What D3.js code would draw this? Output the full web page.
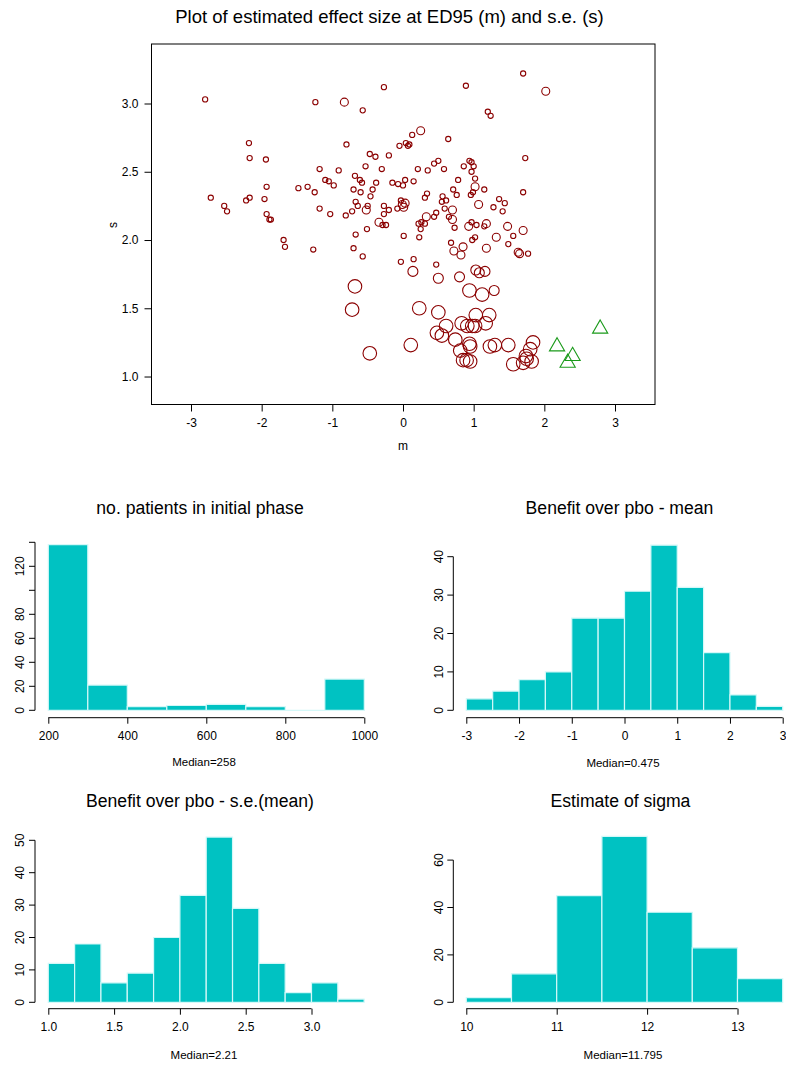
<!DOCTYPE html>
<html><head><meta charset="utf-8">
<script src="https://cdn.jsdelivr.net/npm/d3@7"></script>
<style>
body{margin:0;background:#fff}
svg{display:block;font-family:"Liberation Sans",Arial,Helvetica,sans-serif}
</style></head><body>
<svg id="chart" width="786" height="1067"></svg>
<script>
// Estimated effect at ED95 (m) and its standard error (s), one point per trial
const effectM = [-2.80,-1.24,-0.83,-0.57,-0.27,0.89,1.70,2.02,1.20,1.24,
 -2.18,-2.17,-1.94,-0.80,-0.47,-0.39,-0.20,-0.05,0.04,0.09,
 0.07,0.13,0.25,0.64,1.73,-1.18,-0.91,-0.53,-0.30,-0.68,
 -0.61,-0.58,-1.10,-1.05,-0.98,-0.38,-0.15,-0.07,0.00,0.03,
 0.15,-1.48,-1.35,-1.25,-1.93,-2.72,-2.53,-2.49,-2.22,-2.17,
 -1.96,-1.93,-1.89,-1.87,-1.18,-1.03,-0.81,-0.72,-0.67,-0.64,
 -0.52,-0.50,-0.70,-0.60,-0.46,-0.43,-0.27,-0.20,-0.27,-0.08,
 -0.03,-0.01,0.01,0.03,-0.34,-0.29,-0.24,-0.51,-0.67,-1.69,
 -1.67,-1.27,-0.70,-0.57,0.01,-0.03,0.15,0.14,-0.68,-0.72,
 -0.47,0.23,0.11,0.22,0.31,0.25,0.23,0.21,0.35,0.44,
 0.50,0.58,0.86,0.94,0.97,1.00,0.97,1.02,0.78,0.71,
 0.76,1.02,0.99,0.96,1.15,1.70,0.34,0.31,0.56,0.61,
 0.55,1.07,1.36,1.44,1.28,1.41,0.59,0.70,0.47,0.44,
 0.33,0.26,0.65,0.70,0.73,0.97,1.04,1.18,1.15,0.93,
 1.48,1.70,1.32,1.56,0.98,1.02,0.68,0.85,0.72,0.82,
 1.18,1.49,1.63,1.65,1.77,0.47,0.50,0.80,1.03,1.08,
 1.16,0.94,1.12,1.29,0.50,0.61,0.48,0.55,0.83,1.03,
 1.22,1.17,0.91,0.98,1.02,0.74,0.94,0.95,0.81,0.85,
 0.95,0.90,1.23,1.30,1.49,1.84,1.80,1.74,1.56,1.70,
 1.82,1.75];
const effectS = [3.03,3.01,3.01,2.95,3.12,3.13,3.22,3.09,2.94,2.91,
 2.71,2.60,2.59,2.70,2.63,2.61,2.62,2.69,2.71,2.70,
 2.69,2.77,2.80,2.74,2.60,2.52,2.51,2.54,2.52,2.47,
 2.44,2.42,2.44,2.43,2.40,2.42,2.42,2.41,2.40,2.44,
 2.43,2.38,2.39,2.35,2.39,2.31,2.25,2.21,2.29,2.31,
 2.30,2.19,2.15,2.15,2.23,2.19,2.18,2.21,2.28,2.25,
 2.22,2.25,2.37,2.35,2.32,2.37,2.25,2.22,2.19,2.23,
 2.29,2.26,2.24,2.27,2.13,2.11,2.11,2.08,2.04,2.00,
 1.95,1.93,1.94,1.88,2.03,1.84,1.86,1.77,1.66,1.49,
 1.17,1.50,1.23,2.12,2.12,2.08,2.02,2.52,2.51,2.56,
 2.58,2.52,2.54,2.58,2.57,2.54,2.50,2.45,2.44,2.37,
 2.33,2.39,2.35,2.33,2.37,2.35,2.34,2.31,2.32,2.29,
 2.28,2.26,2.30,2.27,2.24,2.21,2.23,2.22,2.20,2.17,
 2.17,2.13,2.17,2.15,2.09,2.13,2.11,2.12,2.10,2.10,
 2.10,2.07,2.02,2.03,2.00,2.02,1.98,1.95,1.92,1.89,
 1.94,1.97,1.91,1.90,1.90,1.82,1.72,1.73,1.78,1.76,
 1.77,1.63,1.60,1.63,1.47,1.37,1.32,1.30,1.39,1.45,
 1.45,1.39,1.37,1.37,1.37,1.27,1.24,1.22,1.19,1.12,
 1.11,1.12,1.22,1.23,1.23,1.25,1.20,1.15,1.09,1.10,
 1.11,1.13];
// symbol size class per trial (1 = smallest ... 4 = largest)
const effectSize = [1,1,2,1,1,1,1,2,1,1,
 1,1,1,1,1,1,1,1,1,1,
 1,1,2,1,1,1,1,1,1,1,
 1,1,1,1,1,1,1,1,1,1,
 1,1,1,1,1,1,1,1,1,1,
 1,1,1,1,1,1,1,1,1,1,
 2,1,1,1,1,1,1,1,1,1,
 1,2,2,2,2,1,1,1,1,1,
 1,1,1,1,1,1,1,3,4,4,
 4,4,4,1,1,1,1,1,1,1,
 1,1,1,1,1,1,1,1,1,1,
 1,2,1,1,1,1,1,1,1,1,
 1,2,1,1,1,1,1,2,1,1,
 2,1,1,2,1,1,1,2,1,2,
 2,2,2,1,1,1,1,2,2,2,
 2,1,2,2,1,1,3,3,3,3,
 3,4,4,3,4,4,4,4,4,4,
 4,4,4,4,4,4,4,4,4,4,
 4,4,4,4,4,4,4,4,4,4,
 4,4];
// trials flagged separately (triangles)
const flagM = [2.18, 2.40, 2.33, 2.79];
const flagS = [1.22, 1.15, 1.10, 1.35];

const scatterXTicks = [-3, -2, -1, 0, 1, 2, 3];
const scatterYTicks = [1.0, 1.5, 2.0, 2.5, 3.0];

// Histogram: number of patients in initial phase
const patientBreaks = [200, 300, 400, 500, 600, 700, 800, 900, 1000];
const patientCounts = [138, 21, 3, 4, 5, 3, 0, 26];
const patientXTicks = [200, 400, 600, 800, 1000];
const patientYTicks = [0, 20, 40, 60, 80, 100, 120, 140];
const patientYLabels = ["0", "20", "40", "60", "80", "", "120", ""];

// Histogram: benefit over placebo, mean
const meanBreaks = [-3, -2.5, -2, -1.5, -1, -0.5, 0, 0.5, 1, 1.5, 2, 2.5, 3];
const meanCounts = [3, 5, 8, 10, 24, 24, 31, 43, 32, 15, 4, 1];
const meanXTicks = [-3, -2, -1, 0, 1, 2, 3];
const meanYTicks = [0, 10, 20, 30, 40];

// Histogram: benefit over placebo, s.e. of the mean
const seBreaks = [1.0, 1.2, 1.4, 1.6, 1.8, 2.0, 2.2, 2.4, 2.6, 2.8, 3.0, 3.2, 3.4];
const seCounts = [12, 18, 6, 9, 20, 33, 51, 29, 12, 3, 6, 1];
const seXTicks = [1.0, 1.5, 2.0, 2.5, 3.0];
const seYTicks = [0, 10, 20, 30, 40, 50];

// Histogram: estimate of sigma
const sigmaBreaks = [10, 10.5, 11, 11.5, 12, 12.5, 13, 13.5];
const sigmaCounts = [2, 12, 45, 70, 38, 23, 10];
const sigmaXTicks = [10, 11, 12, 13];
const sigmaYTicks = [0, 20, 40, 60];

const svg = d3.select("#chart");
const INK = "#000";
const TICK_FONT = 12;
const TITLE_FONT = 17.6;
// plain hyphen for negatives, as in the printed axis labels
const intFmt = d => String(d);
const oneDec = d => d.toFixed(1);

// ---------- scatter plot ----------
const sc = { left: 151.5, right: 655, top: 44, bottom: 404.5 };
const xS = d3.scaleLinear().domain([-3.559, 3.566]).range([sc.left, sc.right]);
const yS = d3.scaleLinear().domain([0.795, 3.436]).range([sc.bottom, sc.top]);
const rOf = d3.scaleOrdinal().domain([1, 2, 3, 4]).range([2.6, 4.0, 5.0, 6.8]);

svg.append("text")
  .attr("x", 389.5).attr("y", 17).attr("dy", "0.35em")
  .attr("text-anchor", "middle").attr("font-size", 18.5)
  .text("Plot of estimated effect size at ED95 (m) and s.e. (s)");

const gS = svg.append("g");
gS.selectAll("circle.pt")
  .data(d3.range(effectM.length))
  .join("circle")
  .attr("class", "pt")
  .attr("cx", i => xS(effectM[i]))
  .attr("cy", i => yS(effectS[i]))
  .attr("r", i => rOf(effectSize[i]))
  .attr("fill", "none")
  .attr("stroke", "#8B0000")
  .attr("stroke-width", 1.1);

const tri = d3.symbol().type(d3.symbolTriangle).size(100);
gS.selectAll("path.flag")
  .data(d3.range(flagM.length))
  .join("path")
  .attr("class", "flag")
  .attr("transform", i => `translate(${xS(flagM[i])},${yS(flagS[i])})`)
  .attr("d", tri)
  .attr("fill", "none")
  .attr("stroke", "#1A9A1A")
  .attr("stroke-width", 1.1);

// frame
svg.append("rect")
  .attr("x", sc.left).attr("y", sc.top)
  .attr("width", sc.right - sc.left).attr("height", sc.bottom - sc.top)
  .attr("fill", "none").attr("stroke", INK).attr("stroke-width", 1);

const xAxisS = d3.axisBottom(xS).tickValues(scatterXTicks).tickSize(7).tickPadding(7)
  .tickFormat(intFmt);
const gx = svg.append("g").attr("transform", `translate(0,${sc.bottom})`).call(xAxisS);
gx.select(".domain").remove();
gx.selectAll("text").attr("font-size", TICK_FONT).attr("font-family", null).attr("fill", INK);

const yAxisS = d3.axisLeft(yS).tickValues(scatterYTicks).tickSize(7).tickPadding(6)
  .tickFormat(oneDec);
const gy = svg.append("g").attr("transform", `translate(${sc.left},0)`).call(yAxisS);
gy.select(".domain").remove();
gy.selectAll("text").attr("font-size", TICK_FONT).attr("font-family", null).attr("fill", INK);

svg.append("text").attr("x", 403).attr("y", 446).attr("dy", "0.35em")
  .attr("text-anchor", "middle").attr("font-size", TICK_FONT).text("m");
svg.append("text").attr("transform", "translate(113,225) rotate(-90)").attr("dy", "0.35em")
  .attr("text-anchor", "middle").attr("font-size", TICK_FONT).text("s");

// ---------- histograms ----------
function drawHist(o) {
  const x = d3.scaleLinear().domain(o.xDom).range(o.xRange);
  const y = d3.scaleLinear().domain(o.yDom).range(o.yRange);
  const g = svg.append("g");

  svg.append("text").attr("x", o.titleX).attr("y", o.titleY).attr("dy", "0.35em")
    .attr("text-anchor", "middle").attr("font-size", TITLE_FONT).text(o.title);

  const bins = o.counts.map((c, i) => ({ x0: o.breaks[i], x1: o.breaks[i + 1], c }));
  g.selectAll("path.bar")
    .data(bins)
    .join("path")
    .attr("class", "bar")
    .attr("d", b => {
      const x0 = x(b.x0), x1 = x(b.x1), y0 = y(0), y1 = y(b.c);
      return `M${x0},${y0}H${x1}V${y1}H${x0}Z`;
    })
    .attr("fill", "#00C2C2")
    .attr("stroke", "#D4F8F8")
    .attr("stroke-width", 1.2);

  // x axis (line spans first to last tick)
  const xa = d3.axisBottom(x).tickValues(o.xTicks).tickSize(6).tickPadding(8)
    .tickFormat(o.xFmt);
  const gxa = svg.append("g").attr("transform", `translate(0,${o.xAxisY})`).call(xa);
  gxa.select(".domain").remove();
  gxa.append("line")
    .attr("x1", x(o.xTicks[0])).attr("x2", x(o.xTicks[o.xTicks.length - 1]))
    .attr("stroke", INK);
  gxa.selectAll("text").attr("font-size", TICK_FONT).attr("font-family", null).attr("fill", INK);

  // y axis with rotated labels
  const gya = svg.append("g").attr("transform", `translate(${o.yAxisX},0)`);
  gya.append("line")
    .attr("y1", y(o.yTicks[0])).attr("y2", y(o.yTicks[o.yTicks.length - 1]))
    .attr("stroke", INK);
  gya.selectAll("line.tk").data(o.yTicks).join("line").attr("class", "tk")
    .attr("x1", 0).attr("x2", -6).attr("y1", d => y(d)).attr("y2", d => y(d))
    .attr("stroke", INK);
  gya.selectAll("text").data(o.yTicks).join("text")
    .attr("transform", d => `translate(-15,${y(d)}) rotate(-90)`)
    .attr("dy", "0.35em")
    .attr("text-anchor", "middle").attr("font-size", TICK_FONT)
    .text((d, i) => o.yLabels ? o.yLabels[i] : String(d));

  svg.append("text").attr("x", o.medX).attr("y", o.medY).attr("dy", "0.35em")
    .attr("text-anchor", "middle").attr("font-size", 11.5).text(o.median);
}

drawHist({
  title: "no. patients in initial phase", titleX: 200, titleY: 508,
  breaks: patientBreaks, counts: patientCounts,
  xDom: [200, 1000], xRange: [48.3, 364.3], yDom: [0, 140], yRange: [710.3, 542.3],
  xTicks: patientXTicks, xFmt: intFmt, yTicks: patientYTicks, yLabels: patientYLabels,
  xAxisY: 717.7, yAxisX: 35, median: "Median=258", medX: 204, medY: 762
});
drawHist({
  title: "Benefit over pbo - mean", titleX: 619.5, titleY: 508,
  breaks: meanBreaks, counts: meanCounts,
  xDom: [-3, 3], xRange: [466.3, 782.7], yDom: [0, 40], yRange: [710.3, 556.7],
  xTicks: meanXTicks, xFmt: intFmt, yTicks: meanYTicks,
  xAxisY: 717.7, yAxisX: 453.3, median: "Median=0.475", medX: 623, medY: 763
});
drawHist({
  title: "Benefit over pbo - s.e.(mean)", titleX: 200, titleY: 801,
  breaks: seBreaks, counts: seCounts,
  xDom: [1, 3], xRange: [48.3, 311.5], yDom: [0, 50], yRange: [1002.3, 840.3],
  xTicks: seXTicks, xFmt: oneDec, yTicks: seYTicks,
  xAxisY: 1008.7, yAxisX: 35, median: "Median=2.21", medX: 204, medY: 1055
});
drawHist({
  title: "Estimate of sigma", titleX: 620.5, titleY: 801,
  breaks: sigmaBreaks, counts: sigmaCounts,
  xDom: [10, 13], xRange: [466.3, 737.5], yDom: [0, 60], yRange: [1002.3, 860.1],
  xTicks: sigmaXTicks, xFmt: intFmt, yTicks: sigmaYTicks,
  xAxisY: 1008.7, yAxisX: 453.3, median: "Median=11.795", medX: 623, medY: 1055
});
</script>
</body></html>
